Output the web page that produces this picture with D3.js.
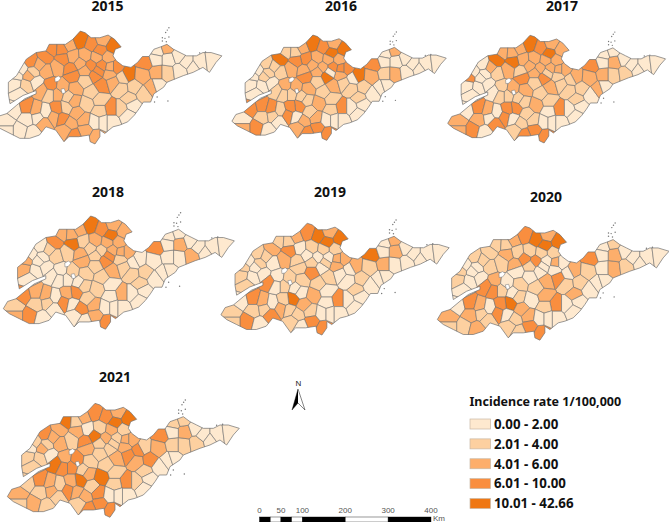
<!DOCTYPE html><html><head><meta charset="utf-8"><script src="https://cdn.jsdelivr.net/npm/d3@7"></script></head><body style="margin:0;background:#fff"><svg id="s" width="669" height="522" style="display:block"></svg><script>
const outline=[[262,155],[285,130],[300,135],[318,150],[345,150],[370,142],[390,155],[410,178],[392,185],[385,205],[395,220],[415,235],[440,240],[460,225],[475,207],[495,207],[510,185],[530,178],[550,170],[570,185],[590,195],[610,205],[640,205],[660,195],[685,195],[718,205],[700,225],[680,255],[660,240],[630,255],[600,265],[575,275],[550,285],[540,300],[510,320],[500,345],[478,345],[465,365],[450,385],[430,405],[405,415],[385,420],[360,440],[345,430],[345,450],[330,472],[315,465],[312,445],[280,450],[250,450],[235,465],[210,430],[180,420],[160,445],[130,455],[100,455],[70,440],[40,425],[22,410],[35,388],[60,380],[90,355],[115,335],[150,320],[150,310],[110,325],[70,350],[65,320],[65,285],[90,265],[120,215],[150,195],[180,190],[190,170],[215,170],[240,170]];
const seats=[[250,172],[285,158],[320,170],[352,158],[385,178],[345,188],[198,183],[228,185],[262,208],[300,205],[335,210],[370,210],[135,222],[178,210],[232,215],[285,228],[318,235],[350,235],[378,240],[430,262],[105,245],[160,232],[140,255],[180,250],[215,240],[255,245],[262,265],[300,250],[330,265],[85,290],[120,295],[90,262],[130,265],[100,320],[150,285],[60,405],[85,370],[120,362],[150,370],[120,395],[155,390],[100,430],[140,440],[60,430],[178,375],[175,410],[170,310],[195,295],[215,320],[190,320],[230,300],[250,330],[270,305],[240,362],[215,365],[205,390],[230,395],[275,380],[265,340],[305,350],[295,400],[300,430],[335,450],[265,445],[240,430],[255,410],[300,280],[350,295],[320,315],[385,285],[410,305],[450,300],[435,335],[415,270],[395,240],[375,260],[340,250],[380,365],[345,372],[330,405],[355,405],[380,405],[410,365],[445,355],[430,385],[345,338],[478,320],[505,300],[485,225],[475,265],[520,255],[550,255],[520,295],[520,190],[555,215],[590,250],[610,225],[650,225],[690,220],[550,180],[585,205],[630,240],[515,215]];
const islands=[[556,120],[551,127],[546,134],[536,150],[544,152],[536,160],[548,162],[556,148],[520,330],[553,342],[512,345],[650,196],[668,193]];
const lakes=[[[207,272],[218,266],[226,272],[218,282],[208,284]],[[226,306],[236,304],[240,316],[230,320]]];
const rates2015=[5,14,8,5,14,8,8,8,5,5, 5,5,8,8,8,5,8,8,5,14, 1,5,3,5,5,8,8,5,8,1, 3,1,5,1,1,1,1,8,5,1, 1,1,1,1,1,5,5,8,5,3, 5,3,5,3,8,5,8,5,5,3, 5,5,5,8,5,5,3,8,3,5, 3,3,3,3,8,5,8,8,3,1, 1,1,3,1,1,3,3,5,8,5, 5,3,1,1,1,1,1,1,1,5,1,1,1,1];
const rates2016=[5,14,8,5,14,14,3,3,8,5, 5,5,3,14,8,5,5,8,8,14, 1,3,3,3,5,5,8,5,14,1, 1,1,3,1,1,1,8,8,8,3, 3,8,1,5,3,1,3,5,3,3, 5,3,5,8,8,8,1,3,3,5, 5,8,8,8,5,5,3,5,3,3, 3,3,3,1,8,5,1,8,3,1, 1,1,1,1,1,3,1,1,8,5, 3,5,1,1,1,1,1,1,1,5,1,1,1,5];
const rates2017=[5,14,8,5,5,14,5,5,5,5, 5,5,1,14,14,5,5,5,5,5, 1,5,1,3,5,3,8,5,8,1, 1,8,1,1,1,5,1,8,5,5, 1,8,1,5,1,8,1,3,3,3, 5,3,5,8,8,8,1,3,3,5, 3,8,8,8,3,3,3,5,3,3, 3,3,3,3,5,3,3,8,1,1, 1,1,1,1,1,3,1,5,8,5, 5,3,1,1,5,3,1,1,1,1,1,1,1,5];
const rates2018=[5,14,8,5,5,14,5,5,3,5, 5,5,1,8,14,3,3,5,5,1, 1,3,1,3,3,5,5,3,8,5, 1,5,1,1,1,3,8,5,5,3, 3,8,1,5,1,1,1,1,1,1, 3,1,3,8,5,8,1,3,3,3, 5,5,8,1,1,8,3,5,3,3, 3,3,3,1,5,3,8,5,1,1, 1,1,1,1,1,1,1,1,8,1, 1,1,1,1,5,5,1,1,1,1,1,1,1,5];
const rates2019=[5,8,14,5,14,14,3,3,1,3, 3,3,3,5,8,1,1,1,5,5, 1,3,3,1,5,3,3,3,1,3, 1,3,1,3,1,3,1,8,5,3, 3,8,1,3,1,8,8,1,3,1, 3,1,3,14,3,5,3,5,1,5, 3,8,8,1,3,3,8,3,3,1, 1,3,3,1,5,5,3,8,1,1, 1,1,1,1,1,1,1,1,14,3, 5,1,1,1,5,1,1,1,1,5,1,1,1,1];
const rates2020=[5,8,14,5,14,14,3,3,3,3, 3,3,3,3,5,8,8,1,5,5, 1,3,1,3,3,5,1,3,1,3, 1,3,1,1,1,5,1,8,5,5, 3,3,5,3,1,3,8,5,3,8, 1,1,3,14,8,8,1,5,3,1, 5,8,8,3,3,3,1,5,3,8, 3,3,5,1,1,1,1,8,3,1, 1,1,1,1,1,5,1,1,8,3, 1,5,1,1,5,3,1,1,1,3,1,1,1,3];
const rates2021=[5,8,8,5,14,14,14,3,1,3, 5,3,8,5,5,14,5,3,5,3, 3,5,3,5,3,8,5,3,3,3, 3,1,5,3,1,5,3,8,5,3, 5,5,3,3,3,3,14,5,8,8, 8,3,3,14,5,8,5,3,5,14, 8,8,8,8,3,5,3,5,3,8, 5,8,3,8,5,5,3,8,3,1, 1,1,3,1,1,3,1,1,8,5, 3,3,1,3,5,3,1,1,1,3,1,1,1,5];
const years=["2015","2016","2017","2018","2019","2020","2021"];
const yearRates=[rates2015,rates2016,rates2017,rates2018,rates2019,rates2020,rates2021];
const breaks=[2.005,4.005,6.005,10.005];
const classLabels=["0.00 - 2.00","2.01 - 4.00","4.01 - 6.00","6.01 - 10.00","10.01 - 42.66"];
const classColors=["#fee9cf","#fdd0a0","#fdae6b","#f98e3f","#ef7713"];
const legendTitle="Incidence rate 1/100,000";
const scaleTicks=[0,50,100,200,300,400];
const scaleBreaks=[0,25,50,75,100,200,300,400];
// panel placement: [sx, sy, tx, ty, title x, title y]
const panels=[[.327,.33,-12.9,-11.8,107.5,6],[.308,.308,225.1,-5,341,6],[.313,.315,440.8,-5.7,562,6],[.332,.331,-4,173,108,192],[.328,.327,213.7,180.7,330,192],[.333,.333,430,183,546,197],[.3333,.3333,0,360,115,377]];

const svg=d3.select("#s");
const color=d3.scaleThreshold().domain(breaks).range(classColors);
const cells=d3.Delaunay.from(seats).voronoi([0,100,730,480]);
svg.append("defs").append("clipPath").attr("id","shape").append("polygon").attr("points",outline.join(" "));
const font='"Noto Sans","Open Sans",sans-serif';
const stroke="#707070";
years.forEach((y,i)=>{
  const p=panels[i];
  const g=svg.append("g").attr("transform",`translate(${p[2]},${p[3]}) scale(${p[0]},${p[1]})`);
  g.append("g").attr("clip-path","url(#shape)").selectAll("path").data(seats).join("path")
    .attr("d",(d,j)=>cells.renderCell(j)).attr("fill",(d,j)=>color(yearRates[i][j]))
    .attr("stroke",stroke).attr("stroke-width",.6).attr("vector-effect","non-scaling-stroke");
  g.selectAll(".lake").data(lakes).join("polygon").attr("points",d=>d.join(" ")).attr("fill","#fff").attr("stroke",stroke).attr("stroke-width",.5).attr("vector-effect","non-scaling-stroke");
  g.append("polygon").attr("points",outline.join(" ")).attr("fill","none").attr("stroke",stroke).attr("stroke-width",.7).attr("vector-effect","non-scaling-stroke");
  g.selectAll(".isle").data(islands).join("circle").attr("cx",d=>d[0]).attr("cy",d=>d[1]).attr("r",2.2).attr("fill","#777");
  svg.append("text").attr("x",p[4]).attr("y",p[5]+5).attr("text-anchor","middle").attr("font-family",font).attr("font-weight",700).attr("font-size",14).attr("fill","#111").text(y);
});
// legend
svg.append("text").attr("x",469.5).attr("y",406).attr("font-family",font).attr("font-weight",700).attr("font-size",12.5).attr("fill","#111").text(legendTitle);
const ly=d3.scalePoint().domain(classLabels).range([424,503.5]);
classLabels.forEach((l,i)=>{
  svg.append("rect").attr("x",470).attr("y",ly(l)-5).attr("width",20.5).attr("height",10).attr("fill",classColors[i]).attr("stroke","#c9b8a4").attr("stroke-width",.7);
  svg.append("text").attr("x",494).attr("y",ly(l)+4.8).attr("font-family",font).attr("font-weight",700).attr("font-size",13.3).attr("fill","#111").text(l);
});
// north arrow
svg.append("text").attr("x",298.3).attr("y",386).attr("text-anchor","middle").attr("font-family","Liberation Sans").attr("font-size",8).attr("fill","#222").text("N");
const north=svg.append("g");
north.append("path").attr("d",d3.line()([[298,389],[292,410],[298,403]])).attr("fill","#000").attr("stroke","#000").attr("stroke-width",.4);
north.append("path").attr("d",d3.line()([[298,389],[305,410],[298,403]])).attr("fill","#fff").attr("stroke","#333").attr("stroke-width",.6);
// scale bar
const sx=d3.scaleLinear().domain([0,400]).range([259.5,431]);
d3.pairs(scaleBreaks).forEach(([a,b],i)=>{
  svg.append("rect").attr("x",sx(a)).attr("y",517).attr("width",sx(b)-sx(a)).attr("height",5).attr("fill",i%2?"#fff":"#000").attr("stroke","#000").attr("stroke-width",.4);
});
scaleTicks.forEach(t=>svg.append("text").attr("x",sx(t)).attr("y",512.5).attr("text-anchor","middle").attr("font-family","Liberation Sans").attr("font-size",8).attr("fill","#555").text(t));
svg.append("text").attr("x",433).attr("y",520.5).attr("font-family","Liberation Sans").attr("font-size",8).attr("fill","#555").text("Km");
</script></body></html>
